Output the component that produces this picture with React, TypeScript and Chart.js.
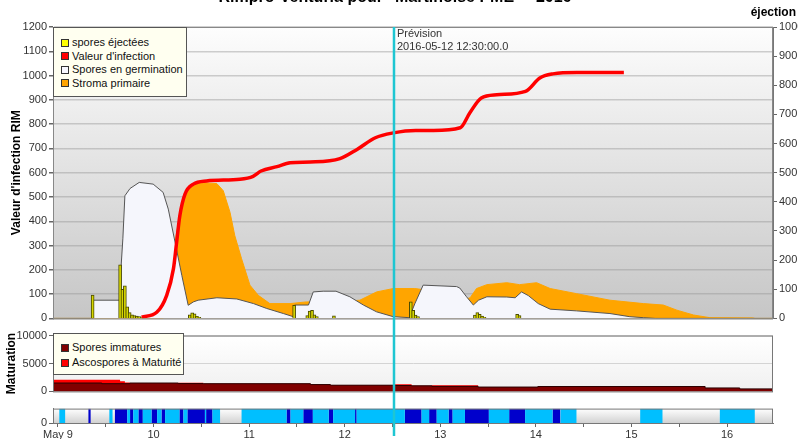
import React, { useEffect, useRef } from "react";
import { Chart, registerables } from "chart.js";

Chart.register(...registerables);

// ---- axis range (hours from May 9 00:00) ----
const X_MIN = -1.25;
const X_MAX = 179.55;
const FORECAST_HOUR = 84.5;
const TITLE = 'Rimpro-Venturia pour "Martinoise PME" - 2016';
const FORECAST_TEXT = ["Prévision", "2016-05-12 12:30:00.0"];
const RIGHT_AXIS_TITLE = "éjection";
const LEFT_AXIS_TITLE = "Valeur d'infection RIM";
const MID_AXIS_TITLE = "Maturation";
const DAY_LABELS = ["May 9", "10", "11", "12", "13", "14", "15", "16"];
const X_TICK_HOURS = [0, 12, 24, 36, 48, 60, 72, 84, 96, 108, 120, 132, 144, 156, 168];

// ---- series names / colours ----
const MAIN_NAMES = ["spores éjectées", "Valeur d'infection", "Spores en germination", "Stroma primaire"];
const MAIN_COLORS = ["#ffff00", "#ff0000", "#f8f8ff", "#ffa500"];
const MID_NAMES = ["Spores immatures", "Ascospores à Maturité"];
const MID_COLORS = ["#800000", "#ff0000"];

// ---- Valeur d'infection (RIM) ----
const infHours = [21.0, 24.8, 27.3, 29.0, 29.8, 30.6, 31.9, 34.0, 37.3, 45.7, 49.0, 51.0, 55.0, 58.3, 63.4, 70.8, 75.1, 79.7, 84.2, 89.8, 94.3, 101.0, 103.4, 106.3, 110.2, 117.4, 121.0, 124.3, 130.3, 142.1];
const infValues = [5, 25, 95, 205, 314, 423, 512, 553, 566, 573, 585, 607, 625, 641, 644, 658, 696, 744, 764, 774, 774, 785, 846, 908, 921, 935, 990, 1007, 1013, 1013];

// ---- Spores en germination ----
const germHours = [-1.25, 8.8, 8.85, 15.6, 15.8, 16.3, 16.8, 18.1, 20.4, 23.9, 26.4, 27.7, 29.4, 31.1, 32.7, 34.0, 35.2, 39.9, 44.9, 49.1, 52.4, 56.6, 59.1, 59.4, 62.9, 64.1, 66.6, 69.8, 73.3, 76.7, 80.0, 84.2, 88.2, 89.6, 91.7, 100.1, 100.9, 102.6, 104.3, 105.6, 107.7, 112.7, 114.8, 116.4, 118.1, 120.6, 123.6, 130.2, 138.6, 143.6, 147.0, 150.0, 179.55];
const germValues = [0, 0, 75, 75, 200, 330, 505, 535, 560, 553, 519, 450, 314, 177, 54, 68, 75, 85, 80, 61, 41, 20, 7, 55, 55, 109, 112, 112, 89, 55, 27, 7, 3, 60, 137, 131, 125, 89, 55, 75, 89, 88, 85, 109, 94, 61, 38, 31, 20, 7, 3, 0, 0];

// ---- Stroma primaire ----
const stromaHours = [-1.25, 26.4, 28.8, 29.8, 31.5, 33.1, 35.7, 39.9, 41.5, 43.2, 44.4, 46.1, 48.2, 50.3, 53.2, 58.3, 62.4, 68.3, 72.1, 75.8, 80.0, 84.2, 89.6, 95.9, 102.6, 103.5, 105.1, 107.7, 112.7, 115.9, 120.2, 123.6, 130.2, 138.6, 147.0, 152.0, 155.4, 159.6, 163.7, 174.5, 175.0, 179.55];
const stromaValues = [0, 0, 250, 355, 491, 539, 560, 555, 526, 437, 341, 246, 137, 95, 61, 61, 68, 68, 70, 75, 109, 123, 123, 110, 80, 85, 123, 139, 147, 139, 147, 123, 102, 75, 61, 55, 34, 14, 3, 2, 0, 0];

// ---- spores éjectées (right axis) ----
const ejectHours = [8.7, 15.6, 16.2, 16.8, 17.4, 18.0, 18.6, 19.2, 19.8, 20.4, 21.0, 33.1, 33.7, 34.3, 34.9, 35.5, 59.3, 62.6, 63.2, 63.8, 64.4, 65.0, 69.3, 88.6, 89.2, 89.8, 90.4, 104.7, 105.3, 105.9, 106.5, 107.1, 115.3, 115.9];
const ejectValues = [80, 184, 100, 112, 40, 20, 12, 10, 8, 6, 4, 12, 19, 16, 7, 4, 45, 10, 25, 28, 12, 6, 9, 57, 28, 11, 6, 11, 20, 14, 8, 4, 14, 10];

// ---- Maturation ----
const matHours = [-1.25, 11, 15.6, 16.8, 18, 30.2, 36.5, 63.4, 68.4, 84.2, 88.8, 93.9, 105.5, 120.5, 162.5, 171.2, 179.55];
const immValues = [1500, 1380, 1380, 1380, 1500, 1400, 1380, 1220, 1110, 1050, 1000, 900, 780, 870, 620, 450, 450];
const matValues = [600, 720, 450, 200, 0, 170, 0, 0, 0, 250, 0, 200, 0, 60, 0, 0, 0];

// ---- leaf wetness bands (1 = light, 2 = dark) ----
const wetStart = [0.3, 7.6, 12.9, 14.3, 17.4, 18.1, 18.9, 20.2, 21.3, 23.5, 24.9, 26.0, 26.9, 30.5, 31.5, 32.5, 36.9, 37.2, 38.8, 46.1, 57.4, 58.4, 61.6, 64.0, 68.0, 69.1, 74.6, 75.0, 87.1, 91.3, 93.2, 95.1, 98.1, 99.1, 102.2, 108.2, 113.3, 117.3, 124.2, 126.2, 146.2, 166.2];
const wetEnd = [1.8, 8.2, 13.7, 17.4, 18.1, 18.9, 20.2, 21.3, 23.5, 24.9, 26.0, 26.9, 30.5, 31.5, 32.5, 36.9, 37.2, 38.8, 40.7, 57.4, 58.4, 61.6, 64.0, 68.0, 69.1, 74.6, 75.0, 87.1, 91.3, 93.2, 95.1, 98.1, 99.1, 102.2, 108.2, 113.3, 117.3, 124.2, 126.2, 130.2, 151.8, 175.0];
const wetLevel = [1, 2, 1, 2, 1, 2, 1, 2, 1, 2, 1, 2, 1, 2, 1, 2, 1, 2, 1, 1, 2, 1, 2, 1, 2, 1, 2, 1, 2, 1, 2, 1, 2, 1, 2, 1, 2, 1, 2, 1, 1, 1];

const FONT = '"Liberation Sans", Arial, sans-serif';
const CYAN = "#1ec6d2";

const pts = (xs: number[], ys: number[]) => xs.map((x, i) => ({ x, y: ys[i] }));
const plain = (v: any) => String(v);

const panelPlugin = {
  id: "panel",
  beforeDraw(chart: any, _a: any, opts: any) {
    const { ctx, chartArea: a } = chart;
    const g = ctx.createLinearGradient(0, a.top, 0, a.bottom);
    g.addColorStop(0, opts.top);
    g.addColorStop(1, opts.bottom);
    ctx.save();
    ctx.fillStyle = g;
    ctx.fillRect(a.left, a.top, a.right - a.left, a.bottom - a.top);
    ctx.restore();
  },
  afterDraw(chart: any, _a: any, opts: any) {
    const { ctx, chartArea: a } = chart;
    ctx.save();
    ctx.strokeStyle = opts.frame;
    ctx.lineWidth = 1;
    ctx.strokeRect(a.left + 0.5, a.top + 0.5, a.right - a.left - 1, a.bottom - a.top);
    const x = Math.round(chart.scales.x.getPixelForValue(FORECAST_HOUR));
    ctx.strokeStyle = CYAN;
    ctx.lineWidth = 2.5;
    ctx.beginPath();
    ctx.moveTo(x, opts.lineTop === undefined ? 0 : opts.lineTop);
    ctx.lineTo(x, opts.lineBottom === undefined ? chart.height : opts.lineBottom);
    ctx.stroke();
    if (opts.texts) {
      ctx.fillStyle = "#333";
      ctx.font = `11px ${FONT}`;
      ctx.textAlign = "left";
      ctx.textBaseline = "middle";
      ctx.fillText(FORECAST_TEXT[0], x + 3, 34);
      ctx.fillText(FORECAST_TEXT[1], x + 3, 47);
      ctx.fillStyle = "#000";
      ctx.font = `bold 16px ${FONT}`;
      ctx.textAlign = "center";
      ctx.textBaseline = "alphabetic";
      ctx.fillText(TITLE, 395, 2);
      ctx.font = `bold 12px ${FONT}`;
      ctx.textAlign = "right";
      ctx.textBaseline = "middle";
      ctx.fillText(RIGHT_AXIS_TITLE, 796, 13);
    }
    ctx.restore();
  },
};

const tickFont = { family: FONT, size: 11 };

function xHidden() {
  return { type: "linear", min: X_MIN, max: X_MAX, offset: false, display: false };
}

function leftAxis(extra: any) {
  return {
    position: "left",
    afterFit: (s: any) => {
      s.width = 53;
    },
    border: { color: "#777" },
    ...extra,
  };
}

function MainChart() {
  const ref = useRef<HTMLCanvasElement>(null);
  useEffect(() => {
    const chart = new Chart(ref.current as HTMLCanvasElement, {
      type: "line",
      data: {
        datasets: [
          {
            type: "line",
            label: MAIN_NAMES[1],
            data: pts(infHours, infValues),
            yAxisID: "y",
            borderColor: "#ff0000",
            borderWidth: 3.5,
            pointRadius: 0,
            cubicInterpolationMode: "monotone",
            fill: false,
            order: 0,
          },
          {
            type: "bar",
            label: MAIN_NAMES[0],
            data: pts(ejectHours, ejectValues),
            yAxisID: "y2",
            backgroundColor: "#d6d600",
            borderColor: "#4a4a00",
            borderWidth: 1,
            barThickness: 3,
            order: 1,
          },
          {
            type: "line",
            label: MAIN_NAMES[2],
            data: pts(germHours, germValues),
            yAxisID: "y",
            borderColor: "#555",
            borderWidth: 1,
            backgroundColor: "#f5f6fc",
            pointRadius: 0,
            tension: 0,
            fill: "origin",
            order: 2,
          },
          {
            type: "line",
            label: MAIN_NAMES[3],
            data: pts(stromaHours, stromaValues),
            yAxisID: "y",
            borderColor: "#ffa500",
            borderWidth: 1,
            backgroundColor: "#ffa500",
            pointRadius: 0,
            tension: 0,
            fill: "origin",
            order: 3,
          },
        ],
      } as any,
      options: {
        responsive: false,
        devicePixelRatio: 1,
        animation: false,
        events: [],
        layout: { padding: { top: 27, bottom: 7, left: 0, right: 0 } },
        plugins: {
          legend: { display: false },
          tooltip: { enabled: false },
          panel: { top: "#fdfdfd", bottom: "#c6c6c6", frame: "#888", lineTop: 27, texts: true },
        } as any,
        scales: {
          x: xHidden(),
          y: leftAxis({
            min: 0,
            max: 1200,
            ticks: { font: tickFont, color: "#333", padding: 2, stepSize: 100, callback: plain },
            grid: { color: "rgba(150,150,150,0.45)", lineWidth: 1.5, tickLength: 4, tickColor: "#666" },
            title: {
              display: true,
              text: LEFT_AXIS_TITLE,
              color: "#000",
              font: { family: FONT, size: 12, weight: "bold" },
              padding: { top: 9, bottom: 0 },
            },
          }),
          y2: {
            position: "right",
            min: 0,
            max: 1000,
            afterFit: (s: any) => {
              s.width = 25;
            },
            border: { color: "#777" },
            ticks: { font: tickFont, color: "#333", padding: 2, stepSize: 100, callback: plain },
            grid: { drawOnChartArea: false, tickLength: 4, tickColor: "#666" },
          },
        } as any,
      },
      plugins: [panelPlugin as any],
    });
    return () => chart.destroy();
  }, []);
  return <canvas ref={ref} width={798} height={327} style={{ position: "absolute", left: 0, top: 0, display: "block" }} />;
}

function MidChart() {
  const ref = useRef<HTMLCanvasElement>(null);
  useEffect(() => {
    const totalValues = immValues.map((v, i) => v + matValues[i]);
    const chart = new Chart(ref.current as HTMLCanvasElement, {
      type: "line",
      data: {
        datasets: [
          {
            label: MID_NAMES[0],
            data: pts(matHours, immValues),
            borderColor: "#2a0000",
            borderWidth: 1,
            backgroundColor: "#800000",
            pointRadius: 0,
            stepped: true,
            fill: "origin",
            order: 0,
          },
          {
            label: MID_NAMES[1],
            data: pts(matHours, totalValues),
            borderColor: "#ff0000",
            borderWidth: 0,
            backgroundColor: "#ff0000",
            pointRadius: 0,
            stepped: true,
            fill: "origin",
            order: 1,
          },
        ],
      } as any,
      options: {
        responsive: false,
        devicePixelRatio: 1,
        animation: false,
        events: [],
        layout: { padding: { top: 6, bottom: 7, left: 0, right: 25 } },
        plugins: {
          legend: { display: false },
          tooltip: { enabled: false },
          panel: { top: "#ffffff", bottom: "#f0f0f0", frame: "#777" },
        } as any,
        scales: {
          x: xHidden(),
          y: leftAxis({
            min: 0,
            max: 10000,
            ticks: { font: tickFont, color: "#333", padding: 2, stepSize: 5000, callback: plain },
            grid: { color: "#d4d4d4", tickLength: 4, tickColor: "#666" },
            title: {
              display: true,
              text: MID_AXIS_TITLE,
              color: "#000",
              font: { family: FONT, size: 12, weight: "bold" },
              padding: { top: 4, bottom: 0 },
            },
          }),
        } as any,
      },
      plugins: [panelPlugin as any],
    });
    return () => chart.destroy();
  }, []);
  return <canvas ref={ref} width={798} height={73} style={{ position: "absolute", left: 0, top: 327, display: "block" }} />;
}

function BandChart() {
  const ref = useRef<HTMLCanvasElement>(null);
  useEffect(() => {
    const band = (lvl: number) => {
      const out: { x: number; y: number }[] = [];
      wetStart.forEach((s, i) => {
        if (wetLevel[i] === lvl) {
          out.push({ x: s, y: 1 });
          out.push({ x: wetEnd[i], y: 0 });
        }
      });
      return out;
    };
    const chart = new Chart(ref.current as HTMLCanvasElement, {
      type: "line",
      data: {
        datasets: [
          {
            label: "humectation",
            data: band(1),
            borderWidth: 0,
            borderColor: "rgba(0,0,0,0)",
            backgroundColor: "#00bfff",
            pointRadius: 0,
            stepped: true,
            fill: "origin",
          },
          {
            label: "infection",
            data: band(2),
            borderWidth: 0,
            borderColor: "rgba(0,0,0,0)",
            backgroundColor: "#0000cc",
            pointRadius: 0,
            stepped: true,
            fill: "origin",
          },
        ],
      } as any,
      options: {
        responsive: false,
        devicePixelRatio: 1,
        animation: false,
        events: [],
        layout: { padding: { top: 7, bottom: 0, left: 0, right: 25 } },
        plugins: {
          legend: { display: false },
          tooltip: { enabled: false },
          panel: { top: "#ffffff", bottom: "#d2d2d2", frame: "#777", lineBottom: 36 },
        } as any,
        scales: {
          x: {
            type: "linear",
            min: X_MIN,
            max: X_MAX,
            offset: false,
            afterFit: (s: any) => {
              s.height = 16;
            },
            afterBuildTicks: (s: any) => {
              s.ticks = X_TICK_HOURS.map((v) => ({ value: v }));
            },
            border: { color: "#777" },
            grid: { drawOnChartArea: false, tickLength: 4, tickColor: "#666" },
            ticks: {
              font: tickFont,
              color: "#333",
              padding: 1,
              autoSkip: false,
              maxRotation: 0,
              callback: (v: any) => (Number(v) % 24 === 0 ? DAY_LABELS[Number(v) / 24] : ""),
            },
          },
          y: leftAxis({
            min: 0,
            max: 1,
            ticks: { font: tickFont, color: "#333", padding: 2, stepSize: 1, callback: plain },
            grid: { drawOnChartArea: false, tickLength: 4, tickColor: "#666" },
          }),
        } as any,
      },
      plugins: [panelPlugin as any],
    });
    return () => chart.destroy();
  }, []);
  return <canvas ref={ref} width={798} height={39} style={{ position: "absolute", left: 0, top: 400, display: "block" }} />;
}

function Legend({ names, colors, left, top, width, height, rowH, padTop }: any) {
  return (
    <div
      style={{
        position: "absolute",
        left,
        top,
        width,
        height,
        boxSizing: "border-box",
        border: "1px solid #555",
        background: "#fffff0",
        paddingTop: padTop,
        fontFamily: FONT,
        fontSize: 11,
        color: "#111",
        overflow: "hidden",
      }}
    >
      {names.map((n: string, i: number) => (
        <div key={n} style={{ position: "relative", height: rowH, lineHeight: rowH + "px", whiteSpace: "nowrap" }}>
          <span
            style={{
              position: "absolute",
              left: 7,
              top: (rowH - 8) / 2,
              width: 8,
              height: 8,
              boxSizing: "border-box",
              border: "1px solid #333",
              background: colors[i],
            }}
          />
          <span style={{ position: "absolute", left: 18, top: 0 }}>{n}</span>
        </div>
      ))}
    </div>
  );
}

export default function App() {
  return (
    <div style={{ position: "absolute", left: 0, top: 0, width: 798, height: 439, background: "#fff", overflow: "hidden" }}>
      <MainChart />
      <MidChart />
      <BandChart />
      <Legend names={MAIN_NAMES} colors={MAIN_COLORS} left={53} top={27} width={134} height={70} rowH={13.5} padTop={8} />
      <Legend names={MID_NAMES} colors={MID_COLORS} left={53} top={333} width={131} height={42} rowH={15} padTop={6} />
    </div>
  );
}
